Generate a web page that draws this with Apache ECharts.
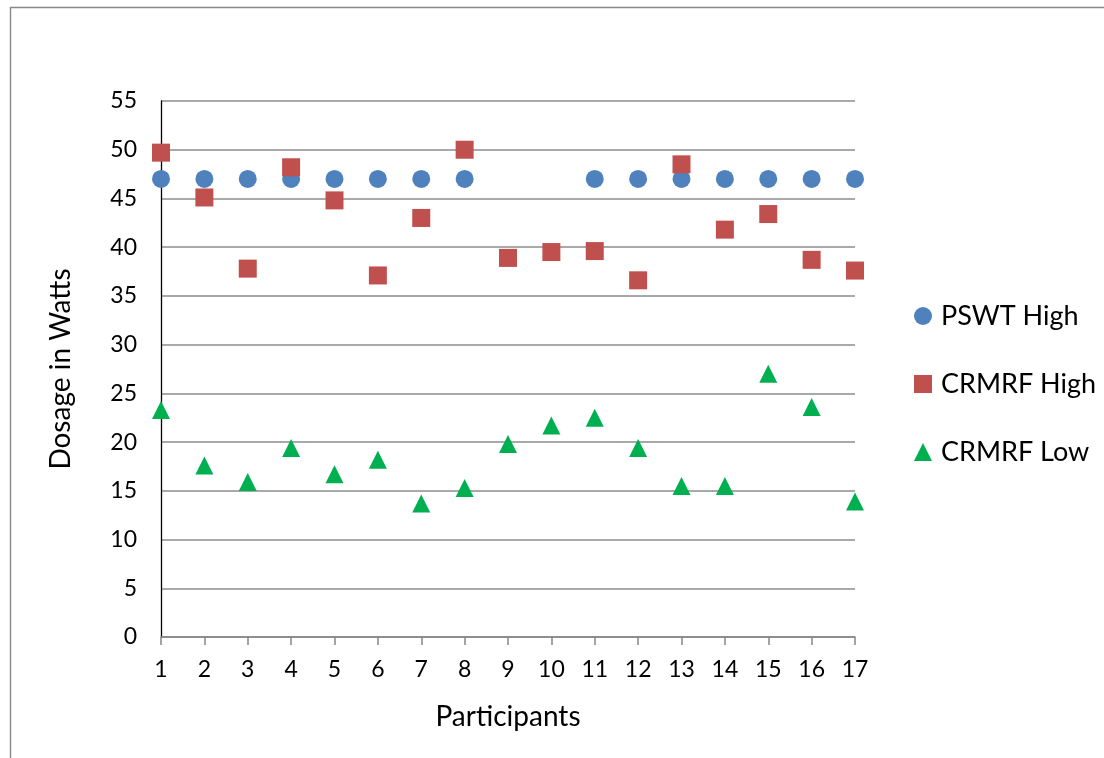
<!DOCTYPE html>
<html>
<head>
<meta charset="utf-8">
<script src="https://cdn.jsdelivr.net/npm/echarts@6/dist/echarts.min.js"></script>
<style>
html,body{margin:0;padding:0;background:#fff;}
#c{width:1104px;height:758px;}
</style>
</head>
<body>
<div id="c"></div>
<script>
var participants = [1,2,3,4,5,6,7,8,9,10,11,12,13,14,15,16,17];
var pswtHigh = [47,47,47,47,47,47,47,47,null,null,47,47,47,47,47,47,47];
var crmrfHigh = [49.7,45.1,37.8,48.2,44.8,37.1,43.0,50.0,38.9,39.5,39.6,36.6,48.5,41.8,43.4,38.7,37.6];
var crmrfLow = [23.3,17.6,15.9,19.4,16.7,18.2,13.7,15.3,19.8,21.7,22.5,19.4,15.5,15.5,27.0,23.6,13.9];
var seriesNames = ['PSWT High','CRMRF High','CRMRF Low'];
var yTicks = {min:0, max:55, interval:5};

function pairs(arr){
  var out = [];
  for (var i=0;i<participants.length;i++){
    if (arr[i] !== null) out.push([participants[i], arr[i]]);
  }
  return out;
}

var FONT = 'Lato';
var chart = echarts.init(document.getElementById('c'), null, {renderer:'canvas'});
chart.setOption({
  animation:false,
  backgroundColor:'#ffffff',
  textStyle:{fontFamily:FONT},
  graphic:[{
    type:'rect', left:8, top:5, silent:true,
    shape:{x:0,y:0,width:1200,height:800},
    style:{fill:'none', stroke:'#888888', lineWidth:1.4}
  }],
  grid:{left:161, right:249, top:101, bottom:121, containLabel:false},
  legend:{
    orient:'vertical', left:909, top:296,
    itemWidth:18, itemHeight:18, itemGap:38,
    textStyle:{fontFamily:FONT, fontSize:27, color:'#000', lineHeight:30, padding:[0,0,0,4]},
    data:seriesNames
  },
  xAxis:{
    type:'value', min:1, max:17, interval:1,
    name:'Participants', nameLocation:'middle', nameGap:66,
    nameTextStyle:{fontFamily:FONT, fontSize:28, color:'#000'},
    axisLine:{show:true, onZero:false, lineStyle:{color:'#868686', width:1.5}},
    axisTick:{show:true, length:8, lineStyle:{color:'#868686', width:1.5}},
    axisLabel:{fontFamily:FONT, fontSize:23, color:'#000', margin:21,
      formatter:function(v){return String(v);}},
    splitLine:{show:false}
  },
  yAxis:{
    type:'value', min:yTicks.min, max:yTicks.max, interval:yTicks.interval,
    name:'Dosage in Watts', nameLocation:'middle', nameGap:86,
    nameTextStyle:{fontFamily:FONT, fontSize:28, color:'#000'},
    axisLine:{show:true, lineStyle:{color:'#000', width:1.3}},
    axisTick:{show:false},
    axisLabel:{fontFamily:FONT, fontSize:23, color:'#000', margin:24},
    splitLine:{show:true, lineStyle:{color:'#8c8c8c', width:1.5}}
  },
  series:[
    {name:seriesNames[0], type:'scatter', symbol:'circle', symbolSize:18,
     itemStyle:{color:'#4F81BD', opacity:1}, data:pairs(pswtHigh), z:2},
    {name:seriesNames[1], type:'scatter', symbol:'rect', symbolSize:18,
     itemStyle:{color:'#C0504D', opacity:1}, data:pairs(crmrfHigh), z:3},
    {name:seriesNames[2], type:'scatter', symbol:'triangle', symbolSize:18,
     itemStyle:{color:'#00B050', opacity:1}, data:pairs(crmrfLow), z:4}
  ]
});
</script>
</body>
</html>
